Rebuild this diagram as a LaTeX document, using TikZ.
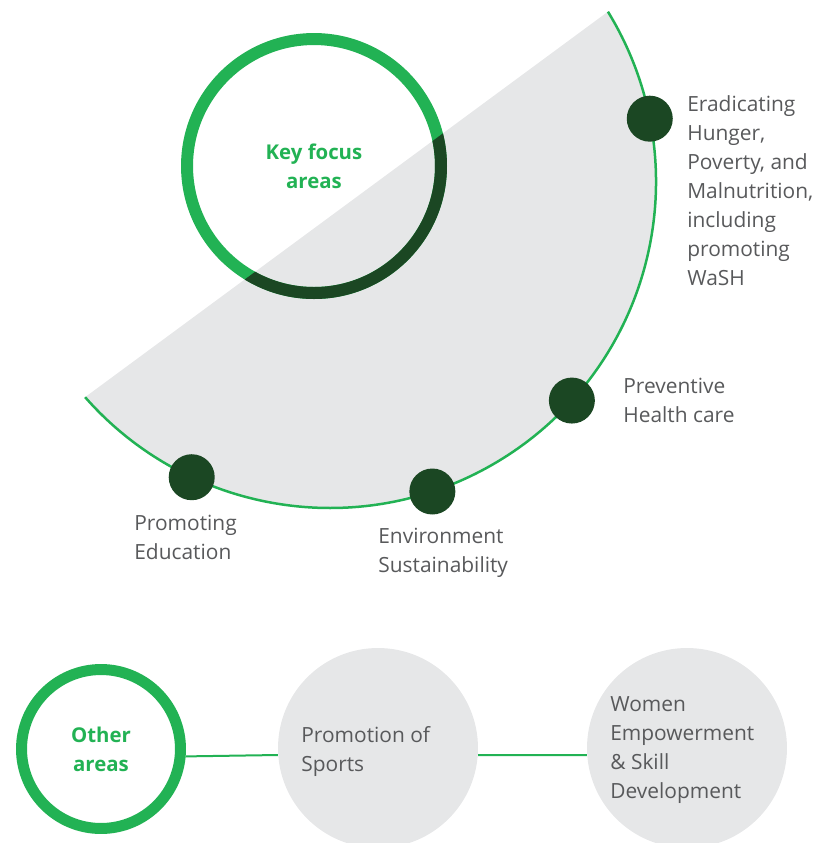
\documentclass[tikz,border=0pt]{standalone}
\usepackage{fontspec}
\setmainfont{Open Sans}
\usetikzlibrary{calc}
\definecolor{leaf}{HTML}{22B254}
\definecolor{forest}{HTML}{1B4723}
\definecolor{mist}{HTML}{E6E7E8}
\definecolor{ink}{HTML}{58595B}

\begin{document}
\begin{tikzpicture}[x=0.02cm,y=0.02cm,
  lbl/.style={anchor=north west,inner sep=0pt,align=left,text=ink,font=\fontsize{11.9}{16.5}\selectfont},
  head/.style={text=leaf,align=center,font=\fontsize{11.6}{16.5}\selectfont\bfseries},
  dot/.style={circle,fill=forest,minimum size=0.92cm,inner sep=0pt},
  ring/.style={circle,draw=leaf,inner sep=0pt},
  area/.style={circle,fill=mist,minimum size=4cm,inner sep=0pt}]
  \useasboundingbox (0,0) rectangle (814,-843);
  \coordinate (c) at (330,-182);
  \fill[mist] ($(c)+(31.5:326)$) arc[start angle=31.5,end angle=-138.7,radius=326] -- cycle;
  \node[ring,head,line width=0.24cm,minimum size=5.08cm] (key) at (314,-166) {Key focus\\areas};
  \begin{scope}
    \clip ($(c)+(31.5:326)$) arc[start angle=31.5,end angle=-138.7,radius=326] -- cycle;
    \draw[forest,line width=0.24cm] (key.center) circle[radius=127];
  \end{scope}
  \draw[leaf,line width=0.05cm] ($(c)+(31.5:326)$) arc[start angle=31.5,end angle=-138.7,radius=326];
  \foreach \a/\n in {11.2/hun,-42.1/hea,-71.7/env,-115.1/edu}
    \node[dot] (\n) at ($(c)+(\a:326)$) {};
  \node[lbl] (hunt) at (687,-95) {Eradicating\\Hunger,\\Poverty, and\\Malnutrition,\\including\\promoting\\WaSH};
  \node[lbl] (heat) at (623,-378) {Preventive\\Health care};
  \node[lbl] (envt) at (378,-528) {Environment\\Sustainability};
  \node[lbl] (edut) at (134,-515) {Promoting\\Education};

  % other areas
  \node[ring,head,line width=0.22cm,minimum size=3.18cm] (oth) at (101,-749) {Other\\areas};
  \node[area] (spo) at (378,-748) {};
  \node[area] (wom) at (687,-748) {};
  \draw[leaf,line width=0.04cm] (oth.-5) -- (spo.184) (spo.-4) -- (wom.184);
  \node[lbl] (spot) at (301,-726) {Promotion of\\Sports};
  \node[lbl] (womt) at (610,-696) {Women\\Empowerment\\\& Skill\\Development};
\end{tikzpicture}
\end{document}
